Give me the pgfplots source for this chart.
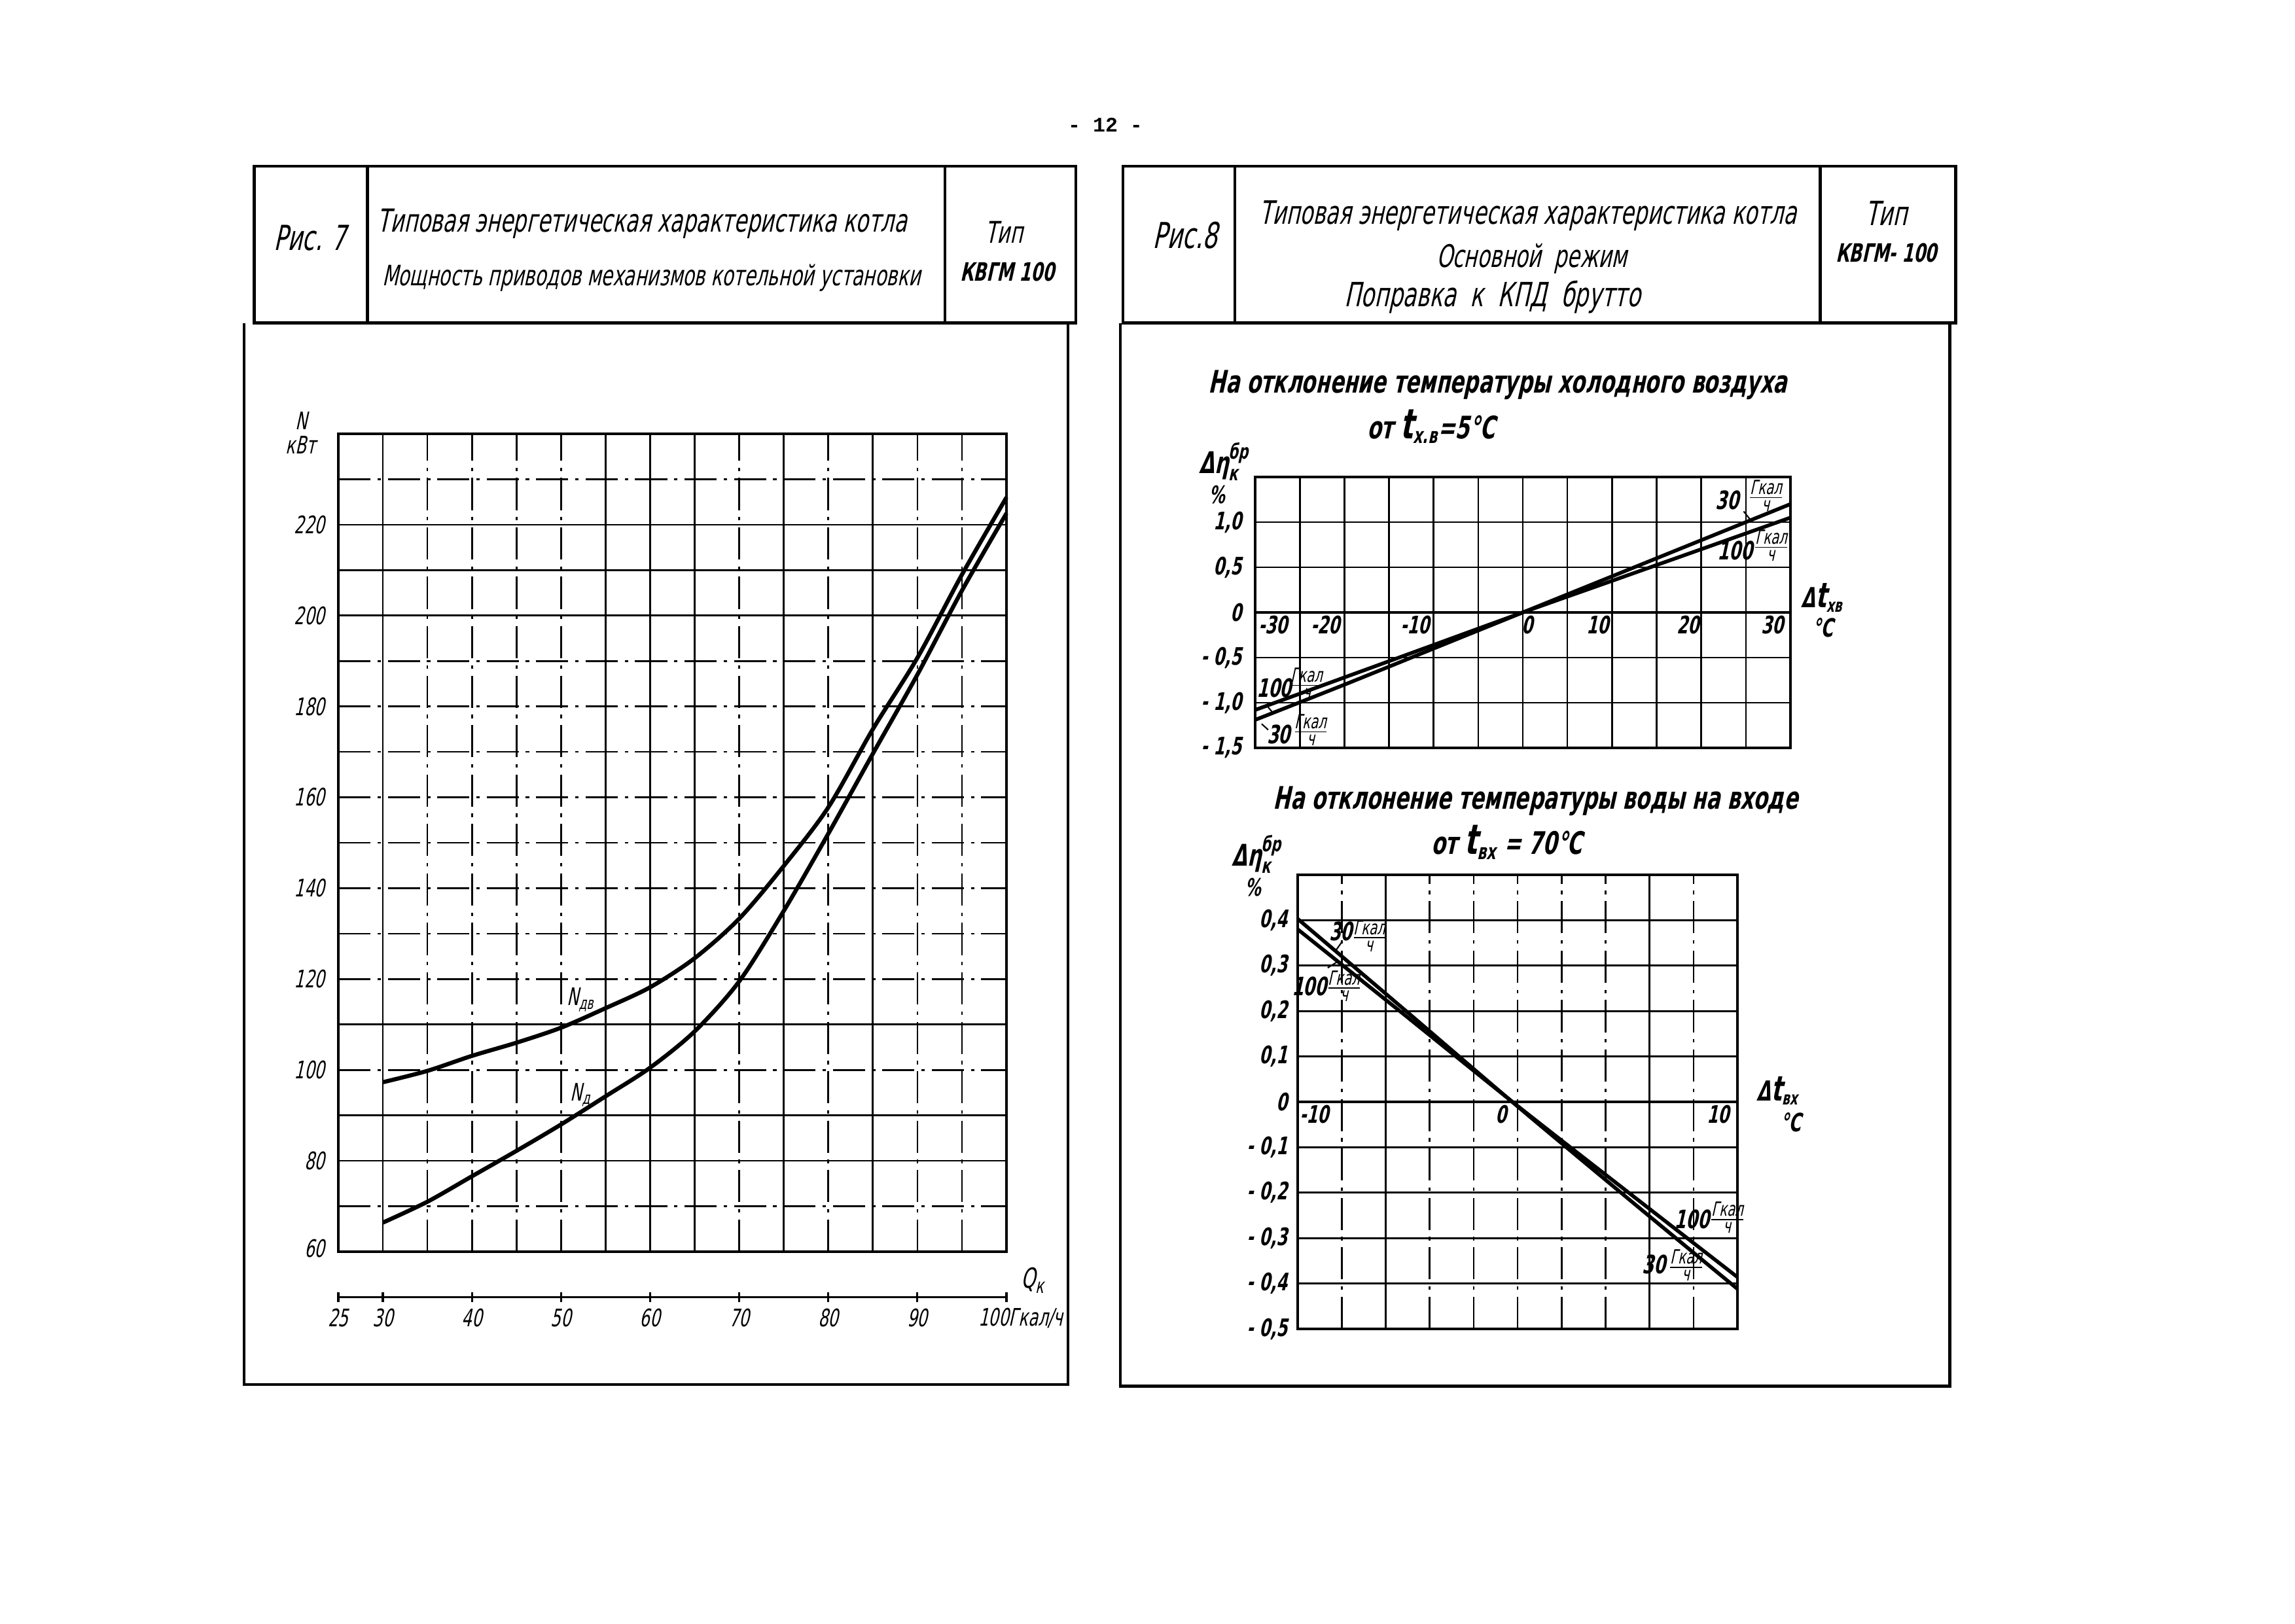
\documentclass[border=0pt]{standalone}
\usepackage{amsmath}
\usepackage{fontspec}
\setmainfont{DejaVu Sans}[FakeSlant=0.22,FakeStretch=0.66]
\newfontfamily\typefont{Liberation Mono}
\usepackage{pgfplots}
\pgfplotsset{compat=1.18}

\newcommand{\fs}[1]{\fontsize{#1}{#1}\selectfont}
\newcommand{\gk}{$\frac{\text{\fs{8.5}Гкал}}{\text{\fs{8.5}ч}}$}
\newcommand{\deta}{$\text{Δη}_{\text{\fs{9}к}}^{\text{\fs{9}бр}}$}

\tikzset{dd/.style={dash pattern=on 14pt off 3pt on 1.5pt off 3pt}}
\pgfplotsset{
  chart/.style={scale only axis, anchor=south west, clip=false,
    axis line style={line width=1.1pt},
    grid=major, major grid style={line width=0.75pt,black},
    major tick length=0pt, xticklabels={}, yticklabels={},
    extra x tick labels={}, extra y tick labels={},
    /pgf/number format/assume math mode=true},
  curve/.style={black, line width=1.8pt, smooth},
}

\begin{document}
\begin{tikzpicture}
\fill[white] (0,0) rectangle (35.07cm,24.81cm);
\path[use as bounding box] (0,0) rectangle (35.07cm,24.81cm);

%% Рис. 7 -- мощность приводов
\begin{axis}[chart, at={(5.17cm,5.68cm)}, width=10.21cm, height=12.50cm,
  xmin=25, xmax=100, ymin=60, ymax=240,
  xtick={30,55,60,65,75,85}, extra x ticks={35,40,45,50,70,80,90,95},
  ytick={80,90,110,200,210,220},
  extra y ticks={70,100,120,130,140,150,160,170,180,190,230},
  extra x tick style={major grid style={line width=0.75pt,black,dd}},
  extra y tick style={major grid style={line width=0.75pt,black,dd}}]
  % N_дв
  \addplot[curve] coordinates {
    (30,97.3) (35,99.8) (40,103.1) (45,106) (50,109.3) (55,113.6) (60,118.2)
    (65,124.6) (70,133.3) (75,144.9) (80,157.8) (85,175) (90,190.7) (95,209) (100,226)};
  % N_д
  \addplot[curve] coordinates {
    (30,66.4) (35,71) (40,76.6) (45,82.2) (50,88) (55,94.2) (60,100.5)
    (65,108.5) (70,119.5) (75,135) (80,152) (85,169.6) (90,187) (95,205.5) (100,222.5)};
  \node[font=\fs{10.5}, inner sep=1pt] at (axis cs:52.2,115.5) {N\textsubscript{дв}};
  \node[font=\fs{10.5}, inner sep=1pt] at (axis cs:52.2,94.5) {N\textsubscript{д}};
  \pgfplotsinvokeforeach{80,100,...,220}{
    \node[anchor=east, inner sep=0pt, xshift=-0.2cm, font=\fs{10.5}] at (axis cs:25,#1) {#1};}
  \node[anchor=east, inner sep=0pt, xshift=-0.2cm, font=\fs{10.5}] at (axis cs:25,60.7) {60};
  % нижняя шкала
  \draw[line width=1pt] (axis cs:25,50) -- (axis cs:100,50);
  \pgfplotsinvokeforeach{25,30,40,50,60,70,80,90,100}{
    \draw[line width=0.9pt] (axis cs:#1,48.9) -- (axis cs:#1,51.1);}
  \pgfplotsinvokeforeach{25,30,40,50,60,70,80,90}{
    \node[font=\fs{10.5}, inner sep=1pt] at (axis cs:#1,45.4) {#1};}
  \node[anchor=west, inner sep=0pt, font=\fs{10.5}] at (axis cs:96.8,45.4) {100Гкал/ч};
\end{axis}

%% Рис. 8 -- холодный воздух
\begin{axis}[chart, at={(19.18cm,13.38cm)}, width=8.18cm, height=4.14cm,
  xmin=-30, xmax=30, ymin=-1.5, ymax=1.5,
  xtick={-25,-20,-15,-10,-5,0,5,10,15,20,25}, ytick={-1,-0.5,0,0.5,1}]
  \draw[line width=1.2pt] (axis cs:-30,0) -- (axis cs:30,0);
  % 30 Гкал/ч
  \addplot[curve, line width=1.6pt] coordinates {
    (-30,-1.19) (-20,-0.80) (-10,-0.40) (0,0) (10,0.40) (20,0.80) (30,1.20)};
  % 100 Гкал/ч
  \addplot[curve, line width=1.6pt] coordinates {
    (-30,-1.08) (-20,-0.72) (-10,-0.36) (0,0) (10,0.35) (20,0.70) (30,1.05)};
  \tikzset{yl/.style={anchor=east, inner sep=0pt, xshift=-0.2cm, font=\fs{10.5}\bfseries}}
  \node[yl] at (axis cs:-30,1) {1,0};
  \node[yl] at (axis cs:-30,0.5) {0,5};
  \node[yl] at (axis cs:-30,0) {0};
  \node[yl] at (axis cs:-30,-0.5) {- 0,5};
  \node[yl] at (axis cs:-30,-1) {- 1,0};
  \node[yl] at (axis cs:-30,-1.5) {- 1,5};
  \tikzset{xl/.style={inner sep=1pt, font=\fs{10.5}\bfseries}}
  \node[xl] at (axis cs:-28.0,-0.14) {-30};
  \node[xl] at (axis cs:-22.1,-0.14) {-20};
  \node[xl] at (axis cs:-12.1,-0.14) {-10};
  \node[xl] at (axis cs:0.5,-0.14) {0};
  \node[xl] at (axis cs:8.4,-0.14) {10};
  \node[xl] at (axis cs:18.5,-0.14) {20};
  \node[xl] at (axis cs:28.0,-0.14) {30};
\end{axis}

%% Рис. 8 -- вода на входе
\begin{axis}[chart, at={(19.83cm,4.50cm)}, width=6.72cm, height=6.94cm,
  xmin=-10, xmax=10, ymin=-0.5, ymax=0.5,
  xtick={-6,6}, extra x ticks={-8,-4,-2,0,2,4,8},
  ytick={-0.4,-0.3,-0.2,-0.1,0,0.1,0.2,0.3,0.4},
  extra x tick style={major grid style={line width=0.75pt,black,dd}}]
  \draw[line width=1.2pt] (axis cs:-10,0) -- (axis cs:10,0);
  % 30 Гкал/ч
  \addplot[curve, line width=1.6pt] coordinates {
    (-10,0.403) (-5,0.197) (0,-0.010) (5,-0.212) (10,-0.412)};
  % 100 Гкал/ч
  \addplot[curve, line width=1.6pt] coordinates {
    (-10,0.380) (-5,0.186) (0,-0.009) (5,-0.198) (10,-0.386)};
  \tikzset{yl/.style={anchor=east, inner sep=0pt, xshift=-0.15cm, font=\fs{10.5}\bfseries}}
  \node[yl] at (axis cs:-10,0.4) {0,4};
  \node[yl] at (axis cs:-10,0.3) {0,3};
  \node[yl] at (axis cs:-10,0.2) {0,2};
  \node[yl] at (axis cs:-10,0.1) {0,1};
  \node[yl] at (axis cs:-10,0) {0};
  \node[yl] at (axis cs:-10,-0.1) {- 0,1};
  \node[yl] at (axis cs:-10,-0.2) {- 0,2};
  \node[yl] at (axis cs:-10,-0.3) {- 0,3};
  \node[yl] at (axis cs:-10,-0.4) {- 0,4};
  \node[yl] at (axis cs:-10,-0.5) {- 0,5};
  \tikzset{xl/.style={inner sep=1pt, font=\fs{10.5}\bfseries}}
  \node[xl] at (axis cs:-9.25,-0.028) {-10};
  \node[xl] at (axis cs:-0.75,-0.028) {0};
  \node[xl] at (axis cs:9.13,-0.028) {10};
\end{axis}

%% рамки и надписи (координаты в пикселях листа)
\begin{scope}[x=0.01cm, y=-0.01cm, shift={(0cm,24.81cm)}]
  \tikzset{frame/.style={line width=1.3pt}}
  \node[font=\typefont\bfseries\fs{9}] at (1690,191) {- 12 -};
  % левая рамка
  \draw[frame] (389,254) rectangle (1645,494);
  \draw[frame] (562,254) -- (562,494);
  \draw[frame] (1445,254) -- (1445,494);
  \draw[frame] (373,494) -- (373,2117) -- (1633,2117) -- (1633,494);
  \node[font=\fs{15}] at (474,364) {Рис. 7};
  \node[font=\fs{13.8}] at (982,342) {Типовая энергетическая характеристика котла};
  \node[font=\fs{12.2}] at (996,425) {Мощность приводов механизмов котельной установки};
  \node[font=\fs{13}] at (1535,355) {Тип};
  \node[font=\fs{11}\bfseries] at (1540,416) {КВГМ 100};
  \node[font=\fs{10.5}, inner sep=1pt] at (461,643) {N};
  \node[font=\fs{10.5}, inner sep=1pt] at (460,680) {кВт};
  \node[font=\fs{12}, inner sep=1pt] at (1580,1958) {$\text{Q}_{\text{\fs{9}к}}$};
  % правая рамка
  \draw[frame] (1717,254) rectangle (2990,494);
  \draw[frame] (1888,254) -- (1888,494);
  \draw[frame] (2783,254) -- (2783,494);
  \draw[frame] (1713,494) -- (1713,2120) -- (2981,2120) -- (2981,494);
  \node[font=\fs{15.5}] at (1812,360) {Рис.8};
  \node[font=\fs{14}] at (2336,330) {Типовая энергетическая характеристика котла};
  \node[font=\fs{13.5}] at (2342,396) {Основной \ режим};
  \node[font=\fs{14.5}] at (2282,454) {Поправка \ к \ КПД \ брутто};
  \node[font=\fs{14.5}] at (2884,326) {Тип};
  \node[font=\fs{11}\bfseries] at (2884,387) {КВГМ- 100};
  % верхний график
  \node[font=\fs{13.5}\bfseries] at (2290,589) {На отклонение температуры холодного воздуха};
  \node[font=\fs{13.5}\bfseries] at (2188,652) {от {\fs{18}t}\textsubscript{х.в}=5°C};
  \node[font=\fs{13}\bfseries, inner sep=1pt] at (1872,706) {\deta};
  \node[font=\fs{10.5}\bfseries, inner sep=1pt] at (1861,757) {\%};
  \node[font=\fs{12}\bfseries, inner sep=1pt] at (2786,914) {Δ{\fs{15}t}\textsubscript{хв}};
  \node[font=\fs{11}\bfseries, inner sep=1pt] at (2787,960) {°C};
  \tikzset{gl/.style={font=\fs{11}\bfseries, inner sep=1pt}, gf/.style={inner sep=0pt}}
  \node[gl] at (2641,765) {30};   \node[gf] at (2700,758) {\gk};
  \node[gl] at (2653,842) {100};  \node[gf] at (2708,834) {\gk};
  \node[gl] at (1948,1052) {100}; \node[gf] at (1998,1045) {\gk};
  \node[gl] at (1955,1123) {30};  \node[gf] at (2004,1116) {\gk};
  \draw[line width=0.6pt] (2666,782) -- (2678,797);
  \draw[line width=0.6pt] (1936,1078) -- (1947,1091);
  \draw[line width=0.6pt] (1929,1107) -- (1939,1116);
  % нижний график
  \node[font=\fs{13.5}\bfseries] at (2348,1225) {На отклонение температуры воды на входе};
  \node[font=\fs{13.5}\bfseries] at (2304,1288) {от {\fs{18}t}\textsubscript{вх} = 70°C};
  \node[font=\fs{13}\bfseries, inner sep=1pt] at (1922,1306) {\deta};
  \node[font=\fs{10.5}\bfseries, inner sep=1pt] at (1916,1357) {\%};
  \node[font=\fs{12}\bfseries, inner sep=1pt] at (2718,1668) {Δ{\fs{15}t}\textsubscript{вх}};
  \node[font=\fs{11}\bfseries, inner sep=1pt] at (2738,1716) {°C};
  \node[gl] at (2050,1424) {30};  \node[gf] at (2094,1431) {\gk};
  \node[gl] at (2002,1508) {100}; \node[gf] at (2055,1508) {\gk};
  \node[gl] at (2587,1864) {100}; \node[gf] at (2641,1862) {\gk};
  \node[gl] at (2529,1934) {30};  \node[gf] at (2578,1935) {\gk};
  \draw[line width=0.6pt] (2052,1440) -- (2042,1454);
  \draw[line width=0.6pt] (2030,1480) -- (2046,1470);
\end{scope}
\end{tikzpicture}
\end{document}
